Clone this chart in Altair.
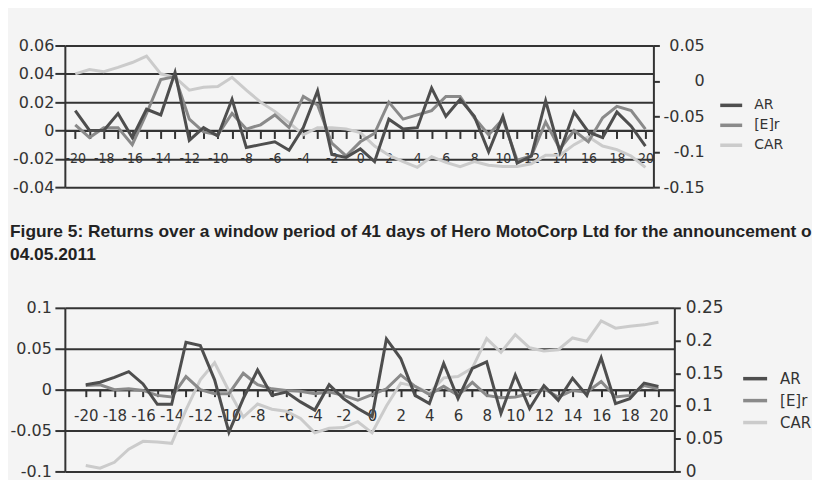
import altair as alt
import pandas as pd

days = list(range(-20, 21))

top_ar = [0.014, 0.000, 0.000, 0.012, -0.005, 0.015, 0.011, 0.041, -0.007, 0.002,
          -0.004, 0.022, -0.012, -0.010, -0.008, -0.014, 0.002, 0.028, -0.017, -0.019,
          -0.013, -0.022, 0.008, 0.001, 0.002, 0.030, 0.010, 0.022, 0.010, -0.015,
          0.010, -0.023, -0.018, 0.021, -0.015, 0.013, -0.001, -0.005, 0.013, 0.003, -0.011]
top_er = [0.004, -0.005, 0.002, 0.002, -0.010, 0.012, 0.036, 0.038, 0.008, -0.001,
          -0.003, 0.012, 0.001, 0.004, 0.011, 0.002, 0.024, 0.018, -0.009, -0.018,
          -0.008, -0.002, 0.020, 0.008, 0.011, 0.014, 0.024, 0.024, 0.009, -0.003,
          0.008, -0.021, -0.018, 0.006, -0.013, 0.000, -0.008, 0.009, 0.017, 0.014, 0.001]
top_car = [0.010, 0.016, 0.013, 0.019, 0.026, 0.035, 0.010, 0.005, -0.013, -0.009,
           -0.008, 0.005, -0.013, -0.030, -0.043, -0.059, -0.076, -0.066, -0.066, -0.068,
           -0.073, -0.092, -0.105, -0.114, -0.122, -0.107, -0.115, -0.121, -0.114, -0.119,
           -0.121, -0.121, -0.117, -0.105, -0.105, -0.090, -0.079, -0.092, -0.097, -0.106, -0.122]

bot_ar = [0.006, 0.009, 0.015, 0.022, 0.007, -0.018, -0.018, 0.058, 0.054, 0.012,
          -0.052, -0.011, 0.024, -0.007, -0.003, -0.015, -0.025, 0.006, -0.011, -0.023,
          -0.033, 0.062, 0.038, -0.007, -0.017, 0.032, -0.011, 0.026, 0.034, -0.029,
          0.018, -0.023, 0.005, -0.013, 0.014, -0.007, 0.039, -0.017, -0.011, 0.008, 0.004]
bot_er = [0.005, 0.006, 0.000, 0.001, -0.001, -0.007, -0.009, 0.016, 0.000, -0.005,
          -0.005, 0.020, 0.006, 0.001, -0.001, -0.002, -0.005, -0.003, -0.007, -0.013,
          -0.006, 0.001, 0.018, 0.004, -0.006, 0.004, -0.007, 0.009, -0.007, -0.010,
          -0.009, -0.005, 0.001, -0.009, -0.001, -0.003, 0.010, -0.009, -0.007, 0.005, 0.001]
bot_car = [0.009, 0.005, 0.014, 0.034, 0.046, 0.045, 0.043, 0.094, 0.140, 0.166,
           0.123, 0.083, 0.103, 0.095, 0.092, 0.081, 0.059, 0.066, 0.067, 0.076,
           0.059, 0.100, 0.135, 0.130, 0.120, 0.143, 0.145, 0.158, 0.203, 0.182,
           0.209, 0.189, 0.184, 0.186, 0.204, 0.199, 0.230, 0.219, 0.222, 0.224, 0.228]

series_names = ["AR", "[E]r", "CAR"]
series_colors = ["#4e4e4e", "#8a8a8a", "#cbcbcb"]

top_left_ticks = [-0.04, -0.02, 0, 0.02, 0.04, 0.06]
top_right_ticks = [-0.15, -0.1, -0.05, 0, 0.05]
bot_left_ticks = [-0.1, -0.05, 0, 0.05, 0.1]
bot_right_ticks = [0, 0.05, 0.1, 0.15, 0.2, 0.25]

caption = ("Figure 5: Returns over a window period of 41 days of Hero MotoCorp Ltd "
           "for the announcement of\n04.05.2011")

INK = "#333333"
MINUS_FIX = "replace(datum.label, '\u2212', '-')"


def panel(ar, er, car, left_ticks, right_ticks, xdom, w, h, xaxis_offset,
          xlab_font, xlab_size, xlab_pad, xtick, ylab_size, lpad, rpad, ralign,
          leg_x, leg_y, leg_size, leg_sym, leg_off, leg_row, caption_pos=None):
    df_ar = pd.DataFrame({"day": days, "value": ar, "series": "AR"})
    df_er = pd.DataFrame({"day": days, "value": er, "series": "[E]r"})
    df_car = pd.DataFrame({"day": days, "value": car, "series": "CAR"})

    color = alt.Color(
        "series:N",
        scale=alt.Scale(domain=series_names, range=series_colors),
        legend=alt.Legend(
            orient="none", legendX=leg_x, legendY=leg_y, title=None,
            direction="vertical", symbolType="stroke", symbolStrokeWidth=3.5,
            symbolSize=leg_sym, labelFont="DejaVu Sans", labelFontSize=leg_size,
            labelColor=INK, labelOffset=leg_off, rowPadding=leg_row, padding=0,
        ),
    )
    xaxis = alt.Axis(
        orient="bottom", offset=xaxis_offset, values=days, title=None,
        labelExpr="datum.value % 2 == 0 ? " + MINUS_FIX + " : ''",
        labelFont=xlab_font, labelFontSize=xlab_size,
        labelColor=INK, labelPadding=xlab_pad, labelOverlap=False, labelFlush=False,
        tickSize=xtick, tickWidth=2, tickColor=INK, domainColor=INK, domainWidth=2,
        grid=False,
    )
    x = alt.X("day:Q", scale=alt.Scale(domain=xdom, nice=False, zero=False), axis=xaxis)
    ldom = [left_ticks[0], left_ticks[-1]]
    rdom = [right_ticks[0], right_ticks[-1]]

    car_layer = alt.Chart(df_car).mark_line(strokeWidth=3).encode(
        x=x,
        y=alt.Y("value:Q", scale=alt.Scale(domain=rdom, nice=False, zero=False),
                axis=alt.Axis(orient="right", values=right_ticks, format=".2~f",
                              labelExpr=MINUS_FIX, title=None, grid=False,
                              labelFont="DejaVu Sans", labelFontSize=ylab_size,
                              labelColor=INK, labelAlign=ralign, labelPadding=rpad,
                              tickSize=6, tickWidth=2, tickColor=INK,
                              domainColor=INK, domainWidth=2)),
        color=color,
    )
    er_layer = alt.Chart(df_er).mark_line(strokeWidth=3).encode(
        x=x,
        y=alt.Y("value:Q", scale=alt.Scale(domain=ldom, nice=False, zero=False),
                axis=alt.Axis(orient="left", values=left_ticks, format=".2~f",
                              labelExpr=MINUS_FIX, title=None, grid=True,
                              gridColor=INK, gridWidth=2, gridOpacity=1,
                              labelFont="DejaVu Sans", labelFontSize=16,
                              labelColor=INK, labelPadding=lpad,
                              tickSize=10, tickWidth=2, tickColor=INK,
                              domainColor=INK, domainWidth=2)),
        color=color,
    )
    ar_layer = alt.Chart(df_ar).mark_line(strokeWidth=3).encode(
        x=x,
        y=alt.Y("value:Q", scale=alt.Scale(domain=ldom, nice=False, zero=False), axis=None),
        color=color,
    )
    layers = [car_layer, er_layer, ar_layer]
    if caption_pos is not None:
        cap = alt.Chart(pd.DataFrame({"text": [caption]})).mark_text(
            align="left", baseline="top", font="Liberation Sans, Arial, sans-serif",
            fontSize=17.4, fontWeight="bold", lineBreak="\n", lineHeight=23,
            limit=806, ellipsis="\u200b", color="#222222",
        ).encode(text="text:N", x=alt.value(caption_pos[0]), y=alt.value(caption_pos[1]))
        layers.append(cap)
    return alt.layer(*layers).resolve_scale(y="independent").properties(width=w, height=h)


top = panel(top_ar, top_er, top_car, top_left_ticks, top_right_ticks,
            [-20.73, 20.56], 590, 142, -56.8,
            "DejaVu Sans Condensed, DejaVu Sans", 14, 13, 8, 16, 1, 45, "right",
            655, 47, 14, 484, 10, 0)
bottom = panel(bot_ar, bot_er, bot_car, bot_left_ticks, bot_right_ticks,
               [-21.46, 21.11], 611, 164, -82,
               "DejaVu Sans", 15, 12, 7, 17, 3.5, 5, "left",
               678, 57, 15, 576, 11, 0, caption_pos=(-55, -85))

chart = alt.vconcat(top, bottom, spacing=28).resolve_scale(color="independent").properties(
    background="#f4f4f4",
    padding={"left": 2, "top": 29, "right": 0, "bottom": 0},
).configure_view(strokeWidth=0)

chart.save("out.html", embed_options={"renderer": "svg", "actions": False})
